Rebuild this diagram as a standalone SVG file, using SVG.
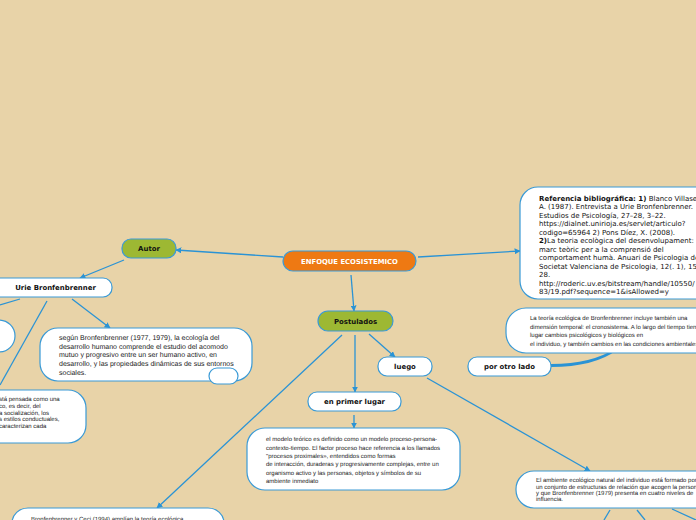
<svg xmlns="http://www.w3.org/2000/svg" width="696" height="520" viewBox="0 0 696 520" text-rendering="geometricPrecision">
<defs>
<marker id="ah" viewBox="0 0 10 10" refX="9" refY="5" markerWidth="6" markerHeight="6" orient="auto" markerUnits="userSpaceOnUse">
<path d="M0,0 L10,5 L0,10 z" fill="#2A93D5"/>
</marker>
<style>
text{text-rendering:geometricPrecision}
.bg{fill:#E8D3A8}
.n{fill:#fff;stroke:#3A9AD6;stroke-width:1.2}
.g{fill:#9DB833;stroke:#3A9AD6;stroke-width:1.2}
.o{fill:#EE7913;stroke:#3A9AD6;stroke-width:1.2}
.c{fill:none;stroke:#2A93D5;stroke-width:1.3}
.ca{fill:none;stroke:#2A93D5;stroke-width:1.3;marker-end:url(#ah)}
.lb{font-family:"DejaVu Sans",Verdana,sans-serif;font-weight:bold;font-size:6.95px;fill:#111;text-anchor:middle}
.lw{font-family:"DejaVu Sans",Verdana,sans-serif;font-weight:bold;font-size:6.85px;fill:#fff;text-anchor:middle}
.t{font-family:"Liberation Sans",Arial,sans-serif;font-size:6px;fill:#222}
.tm{font-family:"Liberation Sans",Arial,sans-serif;font-size:7px;fill:#222}
.tr{font-family:"DejaVu Sans",Verdana,sans-serif;font-size:7px;fill:#111}
</style>
</defs>
<rect class="bg" x="0" y="0" width="696" height="520"/>
<g id="connectors">
<line class="ca" x1="283" y1="257" x2="176" y2="250"/>
<line class="ca" x1="124" y1="260" x2="80" y2="278"/>
<line class="ca" x1="418" y1="257" x2="520" y2="251"/>
<line class="ca" x1="351" y1="275" x2="354" y2="311"/>
<line class="ca" x1="72" y1="299" x2="110" y2="328"/>
<line class="c" x1="20" y1="299" x2="0" y2="305"/>
<line class="c" x1="47" y1="301" x2="0" y2="385"/>
<line class="ca" x1="369" y1="334" x2="395" y2="357"/>
<line class="ca" x1="355" y1="335" x2="355" y2="392"/>
<line class="ca" x1="342" y1="335" x2="157" y2="508"/>
<line class="ca" x1="354" y1="415" x2="354" y2="428"/>
<line class="ca" x1="427" y1="378" x2="590" y2="471"/>
<path d="M551,364 Q592,364 616,348 L617,350 Q594,367 551,367 z" fill="#2A93D5"/>
<line class="c" x1="610" y1="510" x2="604" y2="520"/>
<line class="c" x1="637" y1="510" x2="645" y2="520"/>
<line class="c" x1="672" y1="509" x2="696" y2="520"/>
</g>
<g id="enfoque">
<rect class="o" x="283" y="251" width="133" height="20" rx="10"/>
<text class="lw" x="349.5" y="263.5">ENFOQUE ECOSISTEMICO</text>
</g>
<g id="autor">
<rect class="g" x="122" y="239" width="54" height="19" rx="9"/>
<text class="lb" x="149" y="251.3">Autor</text>
</g>
<g id="urie">
<rect class="n" x="-10" y="278" width="122" height="19" rx="9"/>
<text class="lb" x="55.5" y="290.3">Urie Bronfenbrenner</text>
</g>
<g id="postulados">
<rect class="g" x="318" y="311" width="75" height="20" rx="10"/>
<text class="lb" x="355.5" y="323.5">Postulados</text>
</g>
<g id="luego">
<rect class="n" x="378" y="357" width="54" height="19" rx="9"/>
<text class="lb" x="405" y="369.2">luego</text>
</g>
<g id="porotrolado">
<rect class="n" x="468" y="357" width="83" height="19" rx="9"/>
<text class="lb" x="509.5" y="369.2">por otro lado</text>
</g>
<g id="primerlugar">
<rect class="n" x="308" y="392" width="93" height="19" rx="9"/>
<text class="lb" x="354.5" y="404.3">en primer lugar</text>
</g>
<g id="referencia">
<rect class="n" x="520" y="187" width="200" height="112" rx="18"/>
<text class="tr" x="539" y="200.5"><tspan font-weight="bold">Referencia bibliográfica: 1)</tspan> Blanco Villaseñor,</text>
<text class="tr" x="539" y="209">A. (1987). Entrevista a Urie Bronfenbrenner.</text>
<text class="tr" x="539" y="217.5">Estudios de Psicología, 27–28, 3–22.</text>
<text class="tr" x="539" y="226">https://dialnet.unirioja.es/servlet/articulo?</text>
<text class="tr" x="539" y="234.5">codigo=65964 2) Pons Díez, X. (2008).</text>
<text class="tr" x="539" y="243"><tspan font-weight="bold">2)</tspan>La teoria ecològica del desenvolupament:</text>
<text class="tr" x="539" y="251.5">marc teòric per a la comprensió del</text>
<text class="tr" x="539" y="260">comportament humà. Anuari de Psicologia de la</text>
<text class="tr" x="539" y="268.5">Societat Valenciana de Psicologia, 12(. 1), 15-</text>
<text class="tr" x="539" y="277">28.</text>
<text class="tr" x="539" y="285.5">http://roderic.uv.es/bitstream/handle/10550/</text>
<text class="tr" x="539" y="294">83/19.pdf?sequence=1&amp;isAllowed=y</text>
</g>
<g id="segun">
<rect class="n" x="40" y="328" width="212" height="53" rx="18"/>
<text class="tm" x="59" y="339.5">según Bronfenbrenner (1977, 1979), la ecología del</text>
<text class="tm" x="59" y="348.5">desarrollo humano comprende el estudio del acomodo</text>
<text class="tm" x="59" y="357.3">mutuo y progresivo entre un ser humano activo, en</text>
<text class="tm" x="59" y="366.2">desarrollo, y las propiedades dinámicas de sus entornos</text>
<text class="tm" x="59" y="374.5">sociales.</text>
</g>
<g id="segun-sub">
<rect class="n" x="209" y="368" width="29" height="16" rx="8"/>
</g>
<g id="left-circle">
<rect class="n" x="-60" y="320" width="75" height="32" rx="16"/>
</g>
<g id="left-box">
<rect class="n" x="-100" y="390" width="186" height="53" rx="18"/>
<text class="t" x="-1" y="401">stá pensada como una</text>
<text class="t" x="-1" y="408">co, es decir, del</text>
<text class="t" x="-1" y="414.5">a socialización, los</text>
<text class="t" x="-1" y="421">s estilos conductuales,</text>
<text class="t" x="-1" y="428"> caracterizan cada</text>
</g>
<g id="cronosistema">
<rect class="n" x="506" y="308" width="210" height="45" rx="20"/>
<text class="t" x="530" y="320">La teoría ecológica de Bronfenbrenner incluye también una</text>
<text class="t" x="530" y="329">dimensión temporal: el cronosistema. A lo largo del tiempo tienen</text>
<text class="t" x="530" y="337">lugar cambios psicológicos y biológicos en</text>
<text class="t" x="530" y="346">el individuo, y también cambios en las condiciones ambientales</text>
</g>
<g id="modelo">
<rect class="n" x="247" y="428" width="213" height="62" rx="18"/>
<text class="t" x="266" y="441">el modelo teórico es definido como un modelo proceso-persona-</text>
<text class="t" x="266" y="449.5">contexto-tiempo. El factor proceso hace referencia a los llamados</text>
<text class="t" x="266" y="458">"procesos proximales», entendidos como formas</text>
<text class="t" x="266" y="466">de interacción, duraderas y progresivamente complejas, entre un</text>
<text class="t" x="266" y="474.5">organismo activo y las personas, objetos y símbolos de su</text>
<text class="t" x="266" y="483">ambiente inmediato</text>
</g>
<g id="ambiente">
<rect class="n" x="516" y="471" width="200" height="37" rx="18"/>
<text class="t" x="536" y="482.3" font-size="6.1">El ambiente ecológico natural del individuo está formado por</text>
<text class="t" x="536" y="488.5" font-size="6.1">un conjunto de estructuras de relación que acogen la persona</text>
<text class="t" x="536" y="494.7" font-size="6.1">y que Bronfenbrenner (1979) presenta en cuatro niveles de</text>
<text class="t" x="536" y="500.9" font-size="6.1">influencia.</text>
</g>
<g id="ceci">
<rect class="n" x="12" y="508" width="212" height="30" rx="16"/>
<text class="t" x="31" y="520.5">Bronfenbrenner y Ceci (1994) amplían la teoría ecológica</text>
</g>
</svg>
